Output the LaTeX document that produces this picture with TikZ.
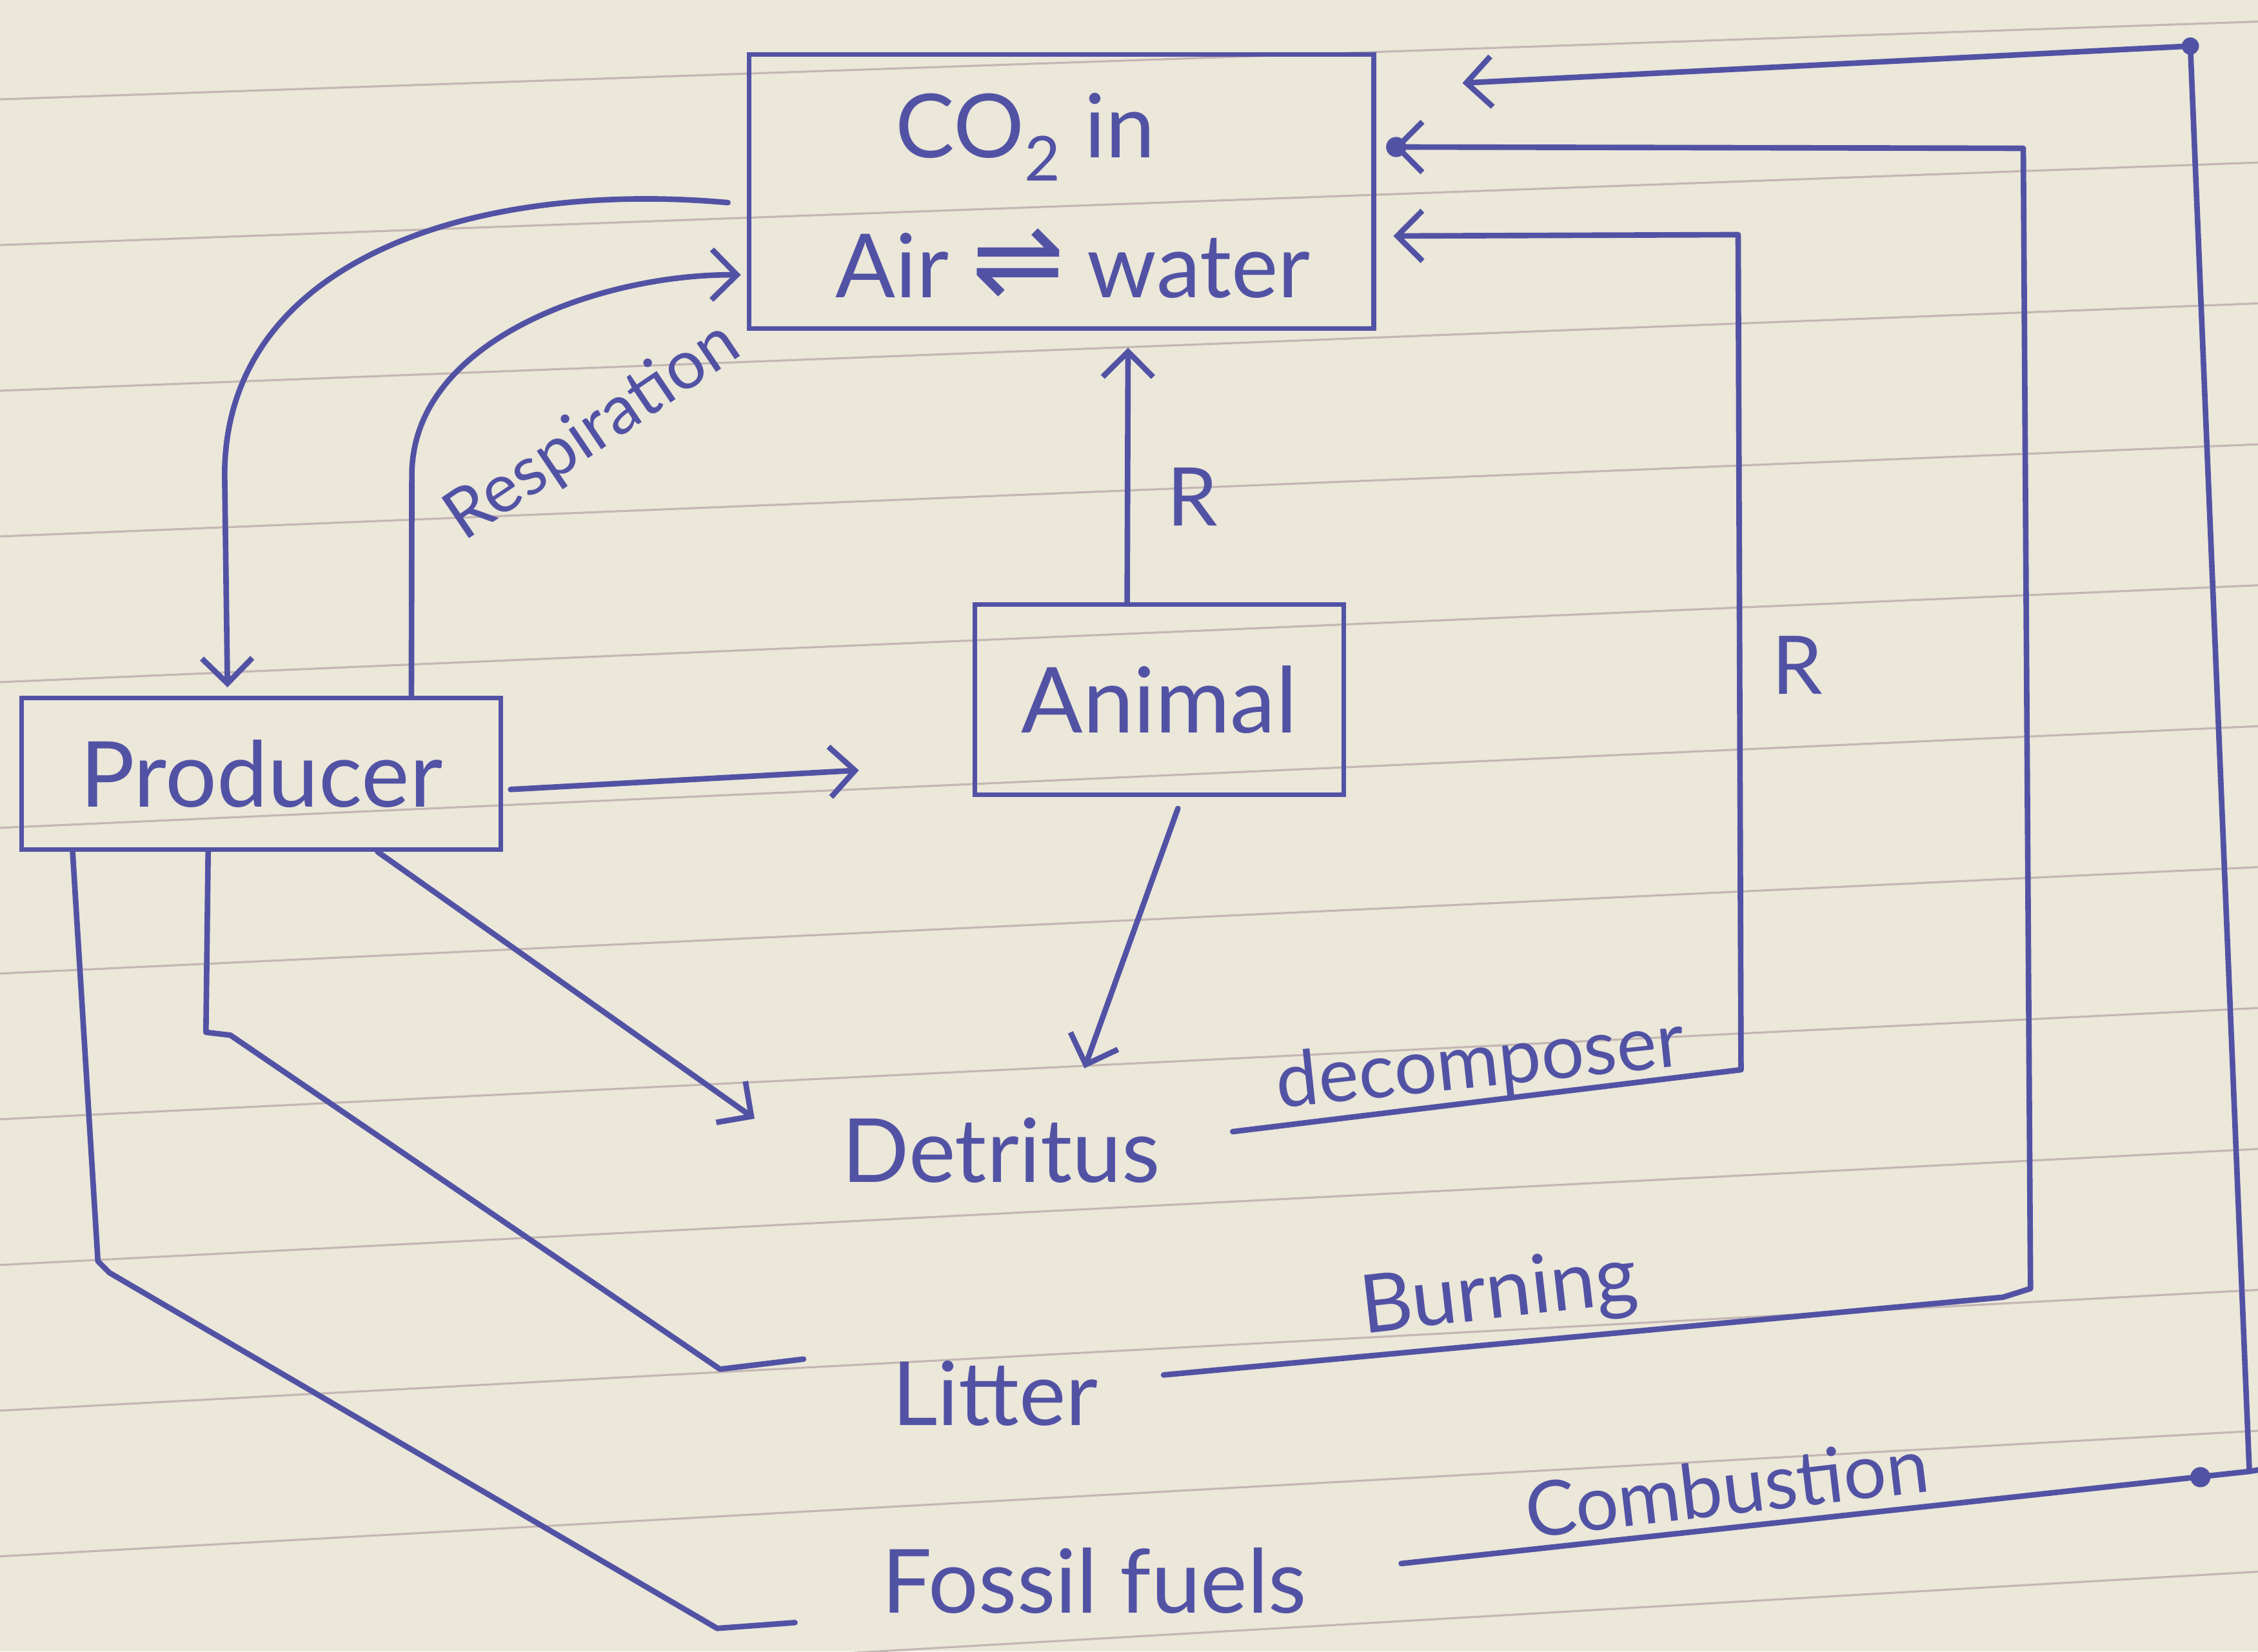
\documentclass[tikz,border=0pt]{standalone}
\usepackage{fontspec}
\setmainfont{Lato}
\newfontfamily\arrowfont{DejaVu Sans}
\usetikzlibrary{arrows.meta,calc}
\definecolor{ink}{RGB}{82,82,165}
\definecolor{paper}{RGB}{235,231,217}
\definecolor{rule}{RGB}{196,182,180}
\tikzset{
  box/.style={draw=ink, line width=1.8pt, inner sep=0pt, text=ink, font=\fontsize{36}{42}\selectfont},
  txt/.style={text=ink, inner sep=2pt, font=\fontsize{35}{40}\selectfont},
  lbl/.style={text=ink, inner sep=1pt, font=\fontsize{30}{36}\selectfont},
  pen/.style={draw=ink, line width=2.2pt, line join=round, line cap=round},
  arr/.style={pen, -{Straight Barb[length=3.5mm,width=7mm,line width=2.2pt]}},
  blob/.style={fill=ink, draw=none}
}
\begin{document}
\begin{tikzpicture}[x=0.02cm,y=-0.02cm]
\fill[paper] (0,0) rectangle (1568,1147);
\useasboundingbox (0,0) rectangle (1568,1147);
% ruled lines of the notebook paper
\foreach \k in {-1,...,11}{
  \pgfmathsetmacro{\ya}{69+101.2*\k}
  \pgfmathsetmacro{\yb}{\ya-1568*(0.033+0.024*\ya/1147)}
  \draw[rule, line width=0.8pt] (0,\ya) -- (1568,\yb);
}
% boxes
\node[box, minimum width=8.68cm, minimum height=3.8cm] (co2) at (737,133) {};
\node[txt] (co2t) at (712,95) {CO\textsubscript{2} in};
\node[txt] (co2w) at (745,183) {Air {\arrowfont\fontsize{44}{44}\selectfont ⇌} water};
\node[box, minimum width=6.66cm, minimum height=2.1cm] (prod) at (181.5,537.5) {Producer};
\node[box, minimum width=5.12cm, minimum height=2.64cm] (anim) at (805,486) {Animal};
% plain text nodes
\node[txt] (detr) at (695,799) {Detritus};
\node[txt] (litt) at (691,968) {Litter};
\node[txt] (foss) at (760,1098) {Fossil fuels};
% labels
\node[lbl, font=\fontsize{27}{32}\selectfont, rotate=34] (resp) at (412,300) {Respiration};
\node[lbl, font=\fontsize{32}{36}\selectfont] (r1) at (828,345) {R};
\node[lbl, font=\fontsize{32}{36}\selectfont] (r2) at (1248,462) {R};
\node[lbl, rotate=6] (decomp) at (1028,740) {decomposer};
\node[lbl, font=\fontsize{32}{36}\selectfont, rotate=6.5] (burn) at (1041,900) {Burning};
\node[lbl, rotate=6.7] (comb) at (1199,1033) {Combustion};
% CO2 -> Producer
\draw[arr] ($(co2.north west)!0.54!(co2.south west)+(-13,0)$)
  .. controls (330,125) and (156,180) .. (156,330)
  -- ($(prod.north west)!0.43!(prod.north east)+(0,-6)$);
% Producer -> CO2 (respiration)
\draw[arr] ($(prod.north west)!0.81!(prod.north east)$) -- (286,330)
  .. controls (286,235) and (420,190) .. ($(co2.north west)!0.80!(co2.south west)+(-4,0)$);
% Producer -> Animal
\draw[arr] ($(prod.north east)!0.6!(prod.south east)+(5,0)$) -- ($(anim.west)+(-79,49)$);
% Animal -> CO2
\draw[arr] ($(anim.north west)!0.414!(anim.north east)$) -- ($(co2.south west)!0.606!(co2.south east)+(0,12)$);
% Animal -> Detritus
\draw[arr] ($(anim.south west)!0.55!(anim.south east)+(0,8)$) -- ($(detr)+(58,-57)$);
% Producer -> Detritus
\draw[arr] ($(prod.south west)!0.74!(prod.south east)$) -- ($(detr)+(-171,-22)$);
% Detritus -> CO2 (decomposer, R)
\coordinate (d1) at (1209,743);
\coordinate (d2) at (1207,163);
\draw[arr] ($(detr)+(161,-13)$) -- (d1) -- (d2) -- ($(co2.north east)!0.66!(co2.south east)+(12,0)$);
% Producer -> Litter
\coordinate (l1) at (143,717);
\coordinate (l2) at (160,719);
\coordinate (l3) at (500,951);
\draw[pen] ($(prod.south west)!0.39!(prod.south east)$) -- (l1) -- (l2) -- (l3) -- ($(litt)+(-133,-24)$);
% Litter -> CO2 (burning)
\coordinate (b1) at (1391,901);
\coordinate (b2) at (1410,895);
\coordinate (b3) at (1405,103);
\draw[arr] ($(litt)+(117,-13)$) -- (b1) -- (b2) -- (b3) -- ($(co2.north east)!0.34!(co2.south east)+(12,0)$);
\fill[blob] ($(co2.north east)!0.34!(co2.south east)+(14,0)$) circle (7);
% Producer -> Fossil fuels
\coordinate (f1) at (68,876);
\coordinate (f2) at (76,884);
\coordinate (f3) at (498,1131);
\draw[pen] ($(prod.south west)!0.11!(prod.south east)$) -- (f1) -- (f2) -- (f3) -- ($(foss)+(-208,29)$);
% Fossil fuels -> CO2 (combustion)
\coordinate (c1) at (1562,1022);
\coordinate (c2) at (1521,32);
\draw[pen] (c1) -- (1568,1021);
\draw[arr] ($(foss)+(213,-12)$) -- (c1) -- (c2) -- ($(co2.north east)!0.11!(co2.south east)+(60,0)$);
\fill[blob] (1528,1026) circle (7);
\fill[blob] (c2) circle (6);
\end{tikzpicture}
\end{document}
